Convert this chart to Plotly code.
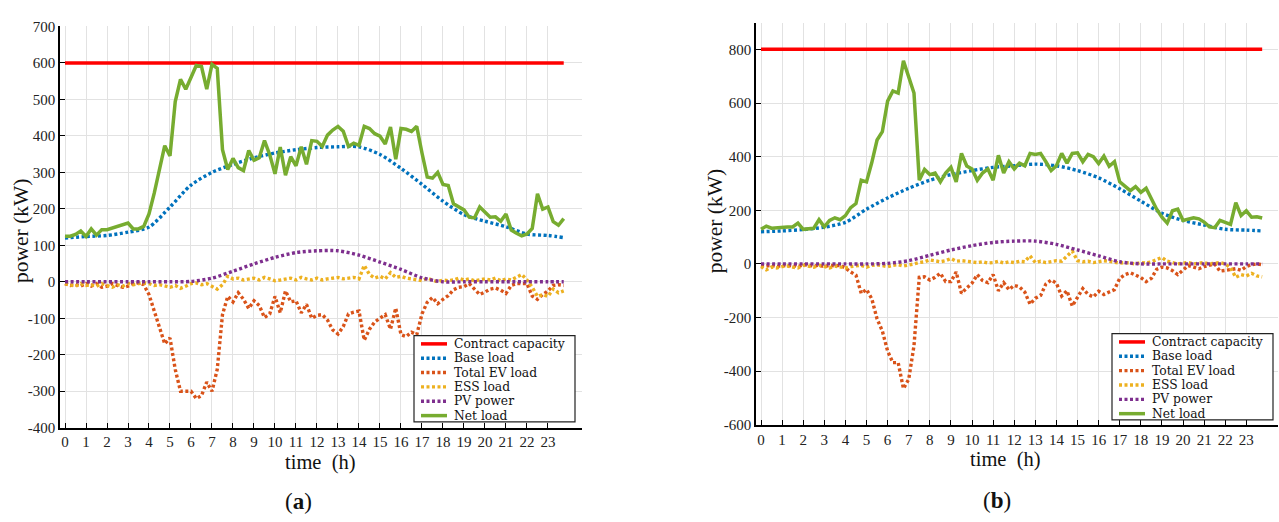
import plotly.graph_objects as go

W, H = 1279, 522
FONT = "Liberation Serif"
LEGEND_FONT = "DejaVu Serif"

# ---------------- data ----------------
STEP_H = 0.25
N_STEPS = 96
time_q = [i * STEP_H for i in range(N_STEPS)]          # 0, 0.25, ... 23.75
hours_smooth = list(range(24)) + [23.75]
hour_ticks = list(range(24))
hour_tick_labels = [str(h) for h in hour_ticks]

capacity_a = 600
capacity_b = 800

# ---- case (a)
net_a = [125, 125, 130, 139, 124, 145, 128, 143, 143, 148, 152, 156, 161, 145, 145, 152,
         186, 243, 309, 373, 345, 494, 555, 528, 560, 593, 590, 528, 596, 585, 362, 308,
         338, 313, 305, 360, 333, 340, 387, 348, 296, 369, 292, 343, 318, 370, 322, 387,
         385, 371, 402, 416, 426, 413, 371, 380, 374, 426, 420, 406, 399, 378, 424, 336,
         420, 418, 412, 426, 353, 287, 284, 300, 267, 264, 214, 205, 197, 177, 175, 205,
         190, 177, 178, 166, 186, 142, 133, 126, 131, 146, 241, 199, 205, 165, 155, 173]
ev_a = [-5, -10, -8, -12, -5, -12, -5, -15, -12, -5, -10, -15, -12, -5, -3, -8,
        -35, -80, -123, -170, -154, -240, -300, -300, -300, -320, -312, -275, -300, -240, -90, -40,
        -55, -30, -48, -73, -52, -65, -98, -88, -40, -85, -25, -55, -52, -85, -62, -100,
        -92, -90, -105, -132, -143, -123, -88, -83, -80, -160, -130, -110, -100, -90, -130, -72,
        -145, -150, -138, -145, -88, -56, -43, -60, -48, -38, -22, -15, -13, -5, -20, -35,
        -28, -20, -17, -23, -32, -10, -5, -5, -5, -39, -48, -35, -25, -10, -8, -10]
ess_a = [-5, -8, -12, -5, -10, -8, -12, -5, -10, -15, -8, -12, -5, -8, -5, -3,
         -5, -10, -8, -12, -15, -10, -18, -12, -5, -3, -8, -5, -12, -20, -8, 15,
         8, 10, 5, 8, 10, 5, 12, 8, 3, 5, 8, 10, 5, 12, 8, 5,
         10, 5, 8, 10, 12, 8, 10, 12, 8, 45, 20, 10, 15, 8, 25, 12,
         15, 10, 8, 5, 3, 10, 5, 0, 5, 3, 5, 10, 5, 8, 3, 5,
         8, 5, 10, 3, 8, 5, 12, 20, 5, -15, -40, -35, -40, -20, -30, -25]
base_a = [120, 124, 127, 136, 150, 205, 265, 300, 322, 340, 353, 362, 368, 370, 370, 349,
          311, 267, 221, 184, 166, 151, 131, 127, 121]
pv_a = [0, 0, 0, 0, 0, 0, 1, 10, 29, 49, 67, 80, 85, 85, 73, 54, 34, 11, 0, 0, 0, 0, 0, 0, 0]

# ---- case (b)
net_b = [129, 141, 133, 135, 138, 138, 138, 152, 129, 131, 133, 165, 138, 162, 172, 165,
         180, 210, 225, 312, 306, 378, 462, 493, 607, 645, 637, 757, 697, 637, 312, 352,
         333, 339, 306, 339, 360, 306, 412, 365, 354, 312, 339, 354, 312, 405, 339, 381,
         354, 376, 366, 412, 408, 412, 381, 348, 366, 412, 376, 412, 414, 381, 408, 400,
         374, 402, 364, 381, 306, 288, 273, 288, 267, 282, 240, 204, 174, 152, 198, 204,
         162, 168, 172, 168, 156, 138, 135, 162, 156, 147, 228, 180, 198, 174, 176, 171]
ev_b = [-5, -8, -5, -10, -5, -8, -5, -10, -3, -5, -8, -5, -10, -5, -8, -5,
        -15, -30, -42, -110, -95, -130, -205, -250, -325, -368, -368, -465, -430, -305, -50, -48,
        -60, -50, -35, -66, -66, -30, -110, -90, -72, -40, -62, -70, -40, -100, -70, -96,
        -80, -86, -105, -150, -128, -118, -75, -60, -72, -120, -100, -157, -126, -92, -114, -123,
        -102, -114, -105, -96, -54, -40, -33, -42, -51, -66, -54, -20, -12, -15, -25, -40,
        -24, -6, -12, -18, -10, -6, 0, -27, -24, -20, -18, -24, -10, -3, 0, -3]
ess_b = [-10, -22, -12, -15, -10, -8, -12, -15, -5, -8, -12, -5, -10, -15, -8, -12,
         -15, -10, -8, -5, -12, -5, -3, -8, -10, -5, -3, -8, -5, 0, 5, 8,
         15, 10, 8, 12, 20, 10, 12, 10, 8, 5, 8, 3, 5, 10, 3, 8,
         5, 10, 8, 30, 5, 10, 5, 8, 12, 10, 30, 48, 12, 8, 10, 5,
         8, 12, 10, 5, 3, 5, 3, 0, 5, 3, 8, 15, 24, 10, 5, 0,
         3, 5, 0, 3, 5, 0, 3, 5, 0, -15, -50, -40, -45, -35, -45, -48]
base_b = [120, 123, 128, 137, 155, 204, 246, 282, 312, 333, 348, 360, 366, 372, 366, 348,
          321, 280, 234, 189, 162, 145, 129, 126, 123]
pv_b = [0, 0, 0, 0, 0, 0, 2, 12, 32, 52, 68, 80, 85, 85, 73, 52, 30, 8, 0, 0, 0, 0, 0, 0, 0]

y_ticks_a = [-400, -300, -200, -100, 0, 100, 200, 300, 400, 500, 600, 700]
y_tick_labels_a = ["-400", "-300", "-200", "-100", "0", "100", "200", "300", "400", "500", "600", "700"]
y_ticks_b = [-600, -400, -200, 0, 200, 400, 600, 800]
y_tick_labels_b = ["-600", "-400", "-200", "0", "200", "400", "600", "800"]

series_names = ["Contract capacity", "Base load", "Total EV load", "ESS load", "PV power", "Net load"]
series_colors = ["#FF0000", "#0072BD", "#D95319", "#EDB120", "#7E2F8E", "#77AC30"]
series_dash = ["solid", "3px,2.5px", "3px,2.5px", "3px,2.5px", "3px,2.5px", "solid"]
series_width = [3.5, 3.4, 3.4, 3.4, 3.4, 3.5]

# ---------------- figure ----------------
def px(x):
    return x / W

def py(y):
    return 1 - y / H

fig = go.Figure()

panels = [
    dict(xa="x", ya="y", cap=capacity_a, base=base_a, ev=ev_a, ess=ess_a, pv=pv_a, net=net_a),
    dict(xa="x2", ya="y2", cap=capacity_b, base=base_b, ev=ev_b, ess=ess_b, pv=pv_b, net=net_b),
]

for p in panels:
    cap_x = [time_q[0], time_q[-1]]
    cap_y = [p["cap"], p["cap"]]
    data = [
        (cap_x, cap_y, "linear"),
        (hours_smooth, p["base"], "spline"),
        (time_q, p["ev"], "linear"),
        (time_q, p["ess"], "linear"),
        (hours_smooth, p["pv"], "spline"),
        (time_q, p["net"], "linear"),
    ]
    for i, (xs, ys, shape) in enumerate(data):
        fig.add_trace(go.Scatter(
            x=xs, y=ys, mode="lines", name=series_names[i],
            line=dict(color=series_colors[i], width=series_width[i],
                      dash=series_dash[i], shape=shape, smoothing=0.8 if shape == "spline" else None),
            xaxis=p["xa"], yaxis=p["ya"], showlegend=False,
        ))

axis_common = dict(
    showline=True, linecolor="black", linewidth=1.5,
    showgrid=True, gridcolor="#e2e2e2", gridwidth=1,
    zeroline=False, ticks="inside", ticklen=5, tickcolor="black", tickwidth=1,
    tickfont=dict(family=FONT, size=15, color="#222"),
)

fig.update_layout(
    width=W, height=H,
    margin=dict(l=0, r=0, t=0, b=0),
    paper_bgcolor="white", plot_bgcolor="white",
    showlegend=False,
    xaxis=dict(domain=[px(60), px(582)], range=[-0.238, 24.62], anchor="y",
               tickmode="array", tickvals=hour_ticks, ticktext=hour_tick_labels, **axis_common),
    yaxis=dict(domain=[py(433), py(19)], range=[-400, 700], anchor="x",
               tickmode="array", tickvals=y_ticks_a, ticktext=y_tick_labels_a, **axis_common),
    xaxis2=dict(domain=[px(756), px(1278)], range=[-0.237, 24.5], anchor="y2",
                tickmode="array", tickvals=hour_ticks, ticktext=hour_tick_labels, **axis_common),
    yaxis2=dict(domain=[py(430), py(15)], range=[-600, 900], anchor="x2",
                tickmode="array", tickvals=y_ticks_b, ticktext=y_tick_labels_b, **axis_common),
)

annotations = []
shapes = []

# axis titles and panel labels
for (tx, ty, text, size, angle) in [
    (21, 230, "power (kW)", 21.5, -90),
    (715, 220, "power (kW)", 21.5, -90),
    (320, 468.5, "time  (h)", 20.5, 0),
    (1005, 466, "time  (h)", 20.5, 0),
    (298, 509, "(<b>a</b>)", 23, 0),
    (997, 508, "(<b>b</b>)", 23, 0),
]:
    annotations.append(dict(x=px(tx), y=py(ty), xref="paper", yref="paper",
                            text=text, showarrow=False, textangle=angle,
                            xanchor="center", yanchor="middle",
                            font=dict(family=FONT, size=size, color="#111")))

# legends (drawn as boxes with line samples and real text)
legend_boxes = [
    dict(x0=414, y0=338, x1=575, y1=427, y_first=346.5, dy=14.8, s0=421, s1=447, tx=452),
    dict(x0=1112, y0=336, x1=1273, y1=425, y_first=344.5, dy=14.8, s0=1119, s1=1145, tx=1150),
]
for lb in legend_boxes:
    shapes.append(dict(type="rect", xref="paper", yref="paper",
                       x0=px(lb["x0"]), x1=px(lb["x1"]), y0=py(lb["y1"]), y1=py(lb["y0"]),
                       line=dict(color="#222", width=1.2), fillcolor="white", layer="above"))
    for i, name in enumerate(series_names):
        yy = lb["y_first"] + i * lb["dy"]
        shapes.append(dict(type="line", xref="paper", yref="paper",
                           x0=px(lb["s0"]), x1=px(lb["s1"]), y0=py(yy), y1=py(yy),
                           line=dict(color=series_colors[i], width=series_width[i],
                                     dash=series_dash[i]), layer="above"))
        annotations.append(dict(x=px(lb["tx"]), y=py(yy), xref="paper", yref="paper",
                                text=name, showarrow=False, xanchor="left", yanchor="middle",
                                font=dict(family=LEGEND_FONT, size=12.3, color="#111")))

fig.update_layout(annotations=annotations, shapes=shapes)

fig.write_html("out.html")
